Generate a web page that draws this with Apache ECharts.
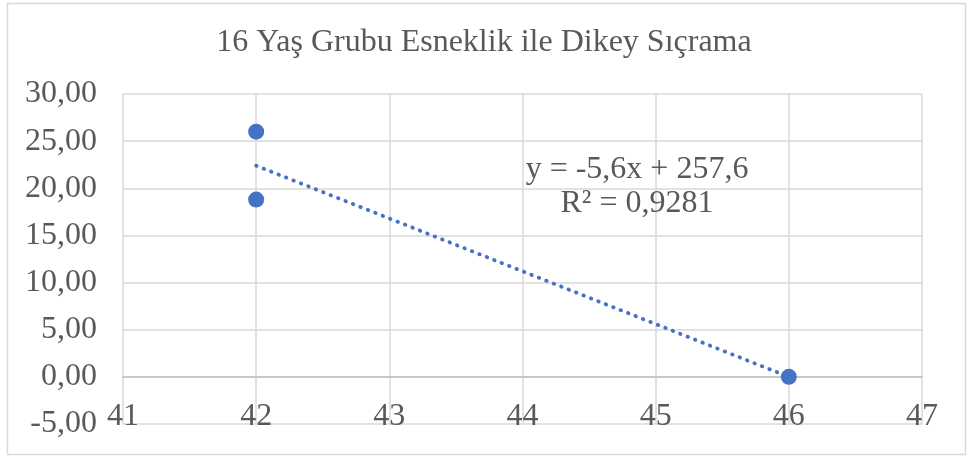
<!DOCTYPE html>
<html>
<head>
<meta charset="utf-8">
<script src="https://cdn.jsdelivr.net/npm/echarts@6/dist/echarts.min.js"></script>
<style>html,body{margin:0;padding:0;background:#fff;}#c{width:968px;height:457px;}</style>
</head>
<body>
<div id="c"></div>
<script>
const titleText = '16 Yaş Grubu Esneklik ile Dikey Sıçrama';
const pointsX = [42, 42, 46];
const pointsY = [26.0, 18.8, 0.0];
const trendX = [42, 46];
const trendY = [22.4, 0.0];
const equationLines = ['y = -5,6x + 257,6', 'R² = 0,9281'];
const xTicks = {min: 41, max: 47, interval: 1};
const yTicks = {min: -5, max: 30, interval: 5};

const FONT = '"Liberation Serif", "Times New Roman", serif';
const TXT = '#595959';
const GRID = '#d9d9d9';
const BLUE = '#4472C4';

const chart = echarts.init(document.getElementById('c'), null, {renderer: 'canvas'});
chart.setOption({
  animation: false,
  backgroundColor: '#fff',
  title: {
    text: titleText, left: 'center', top: 22,
    textStyle: {fontFamily: FONT, fontSize: 32, fontWeight: 'normal', color: TXT}
  },
  grid: {left: 123, right: 46, top: 94, bottom: 33, containLabel: false, outerBoundsMode: 'none'},
  xAxis: {
    type: 'value', min: xTicks.min, max: xTicks.max, interval: xTicks.interval,
    position: 'bottom', offset: -47,
    axisLine: {onZero: false, lineStyle: {color: '#bfbfbf', width: 1.5}},
    axisTick: {show: false},
    axisLabel: {margin: 24, color: TXT, fontFamily: FONT, fontSize: 32},
    splitLine: {show: true, lineStyle: {color: GRID, width: 1.5}}
  },
  yAxis: {
    type: 'value', min: yTicks.min, max: yTicks.max, interval: yTicks.interval,
    axisLine: {show: false},
    axisTick: {show: false},
    axisLabel: {margin: 26, color: TXT, fontFamily: FONT, fontSize: 32,
      formatter: v => v.toFixed(2).replace('.', ',')},
    splitLine: {show: true, lineStyle: {color: GRID, width: 1.5}}
  },
  series: [
    {
      type: 'line', data: trendX.map((x, i) => [x, trendY[i]]),
      symbol: 'none', z: 2,
      lineStyle: {color: BLUE, width: 3.8, type: [0.5, 7.5], cap: 'round'}
    },
    {
      type: 'scatter', data: pointsX.map((x, i) => [x, pointsY[i]]),
      symbolSize: 16, z: 3,
      itemStyle: {color: BLUE, opacity: 1}
    }
  ],
  graphic: [
    {type: 'rect', shape: {x: 7.5, y: 3.5, width: 958, height: 451}, z: -1,
      style: {fill: 'none', stroke: GRID, lineWidth: 1.5}},
    {type: 'text', x: 637, y: 170, z: 10,
      style: {text: equationLines[0], font: '32px ' + FONT, fill: TXT, textAlign: 'center', textVerticalAlign: 'middle'}},
    {type: 'text', x: 637, y: 204, z: 10,
      style: {text: equationLines[1], font: '32px ' + FONT, fill: TXT, textAlign: 'center', textVerticalAlign: 'middle'}}
  ]
});
</script>
</body>
</html>
